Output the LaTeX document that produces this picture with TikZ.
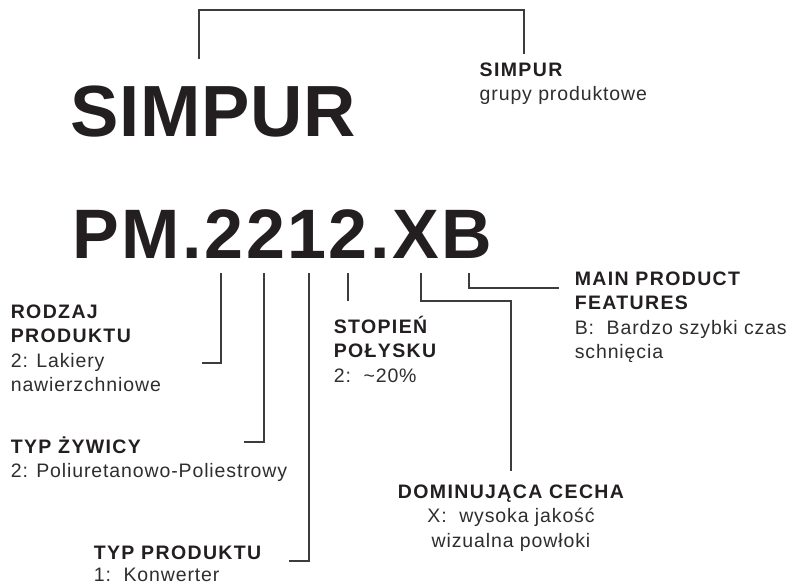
\documentclass[tikz,border=0pt]{standalone}
\usepackage{fontspec}
\setmainfont{Liberation Sans}
\newfontfamily\bigfont{Liberation Sans}[LetterSpace=0.8]
\newfontfamily\codefont{Liberation Sans}[LetterSpace=3.6]
\newfontfamily\lblboldfont{Liberation Sans}[LetterSpace=7]
\newfontfamily\lblregfont{Liberation Sans}[LetterSpace=4.5]
\definecolor{ink}{HTML}{231F20}
\definecolor{soft}{HTML}{2E2E2E}
\definecolor{wire}{HTML}{3C3C3C}
\newcommand\BoldLine[1]{{\lblboldfont\bfseries\color{ink}#1}}
\newcommand\RegLine[1]{{\lblregfont\color{soft}#1}}
\newcommand\LblTab[1]{\begin{tabular}[t]{@{}l@{}}#1\end{tabular}}
\newcommand\LblTabC[1]{\begin{tabular}[t]{@{}c@{}}#1\end{tabular}}
\tikzset{
  bigtext/.style={inner sep=0pt, anchor=base west, text=ink, font=\bigfont\bfseries\fontsize{72.5}{80}\selectfont},
  codetext/.style={inner sep=0pt, anchor=base west, text=ink, font=\codefont\bfseries\fontsize{70}{80}\selectfont},
  lbl/.style={inner sep=0pt, anchor=base west, font=\fontsize{19.5}{24.5}\selectfont},
  lblc/.style={inner sep=0pt, anchor=base, font=\fontsize{19.5}{24.5}\selectfont},
  wireline/.style={draw=wire, line width=1.2pt}
}
\begin{document}
\begin{tikzpicture}[x=1pt,y=-1pt]
\useasboundingbox[fill=white] (0,0) rectangle (796,587);

% main codes
\node[bigtext] (simpur) at (70.5,136) {SIMPUR};
\node[codetext] (code) at (72.5,258) {PM.2212.XB};

% labels
\node[lbl] (grp) at (479.5,76) {\LblTab{\BoldLine{SIMPUR}\\\RegLine{grupy produktowe}}};
\node[lbl] (rodzaj) at (10.6,318) {\LblTab{\BoldLine{RODZAJ}\\\BoldLine{PRODUKTU}\\\RegLine{2: Lakiery}\\\RegLine{nawierzchniowe}}};
\node[lbl] (zywica) at (10.6,453) {\LblTab{\BoldLine{TYP ŻYWICY}\\\RegLine{2: Poliuretanowo-Poliestrowy}}};
\node[lbl] (typprod) at (93.6,559) {\LblTab{\BoldLine{TYP PRODUKTU}\\[-2pt]\RegLine{1:\ \ Konwerter}}};
\node[lbl] (stopien) at (333.6,333) {\LblTab{\BoldLine{STOPIEŃ}\\\BoldLine{POŁYSKU}\\\RegLine{2:\ \ \textasciitilde20\%}}};
\node[lbl] (features) at (574.6,285) {\LblTab{\BoldLine{MAIN PRODUCT}\\\BoldLine{FEATURES}\\\RegLine{B:\ \ Bardzo szybki czas}\\\RegLine{schnięcia}}};
\node[lblc] (dominujaca) at (511,498) {\LblTabC{\BoldLine{DOMINUJĄCA CECHA}\\\RegLine{X:\ \ wysoka jakość}\\\RegLine{wizualna powłoki}}};

% connector points
\coordinate (brL) at (199,59);
\coordinate (brLt) at (199,10);
\coordinate (brR) at (524,54);

\coordinate (t1) at (221,273);
\coordinate (e1) at (202,363);
\coordinate (t2) at (264,273);
\coordinate (e2) at (244,442);
\coordinate (t3) at (309,273);
\coordinate (e3) at (289,561);
\coordinate (t4) at (348,273);
\coordinate (e4) at (348,301);
\coordinate (t5) at (421,273);
\coordinate (m5) at (511,301);
\coordinate (e5) at (511,471);
\coordinate (t6) at (469,273);
\coordinate (e6) at (559,288);

% connectors
\draw[wireline] (brL) -- (brLt) -| (brR);
\draw[wireline] (t1) |- (e1);
\draw[wireline] (t2) |- (e2);
\draw[wireline] (t3) |- (e3);
\draw[wireline] (t4) -- (e4);
\draw[wireline] (t5) |- (m5) -- (e5);
\draw[wireline] (t6) |- (e6);
\end{tikzpicture}
\end{document}
